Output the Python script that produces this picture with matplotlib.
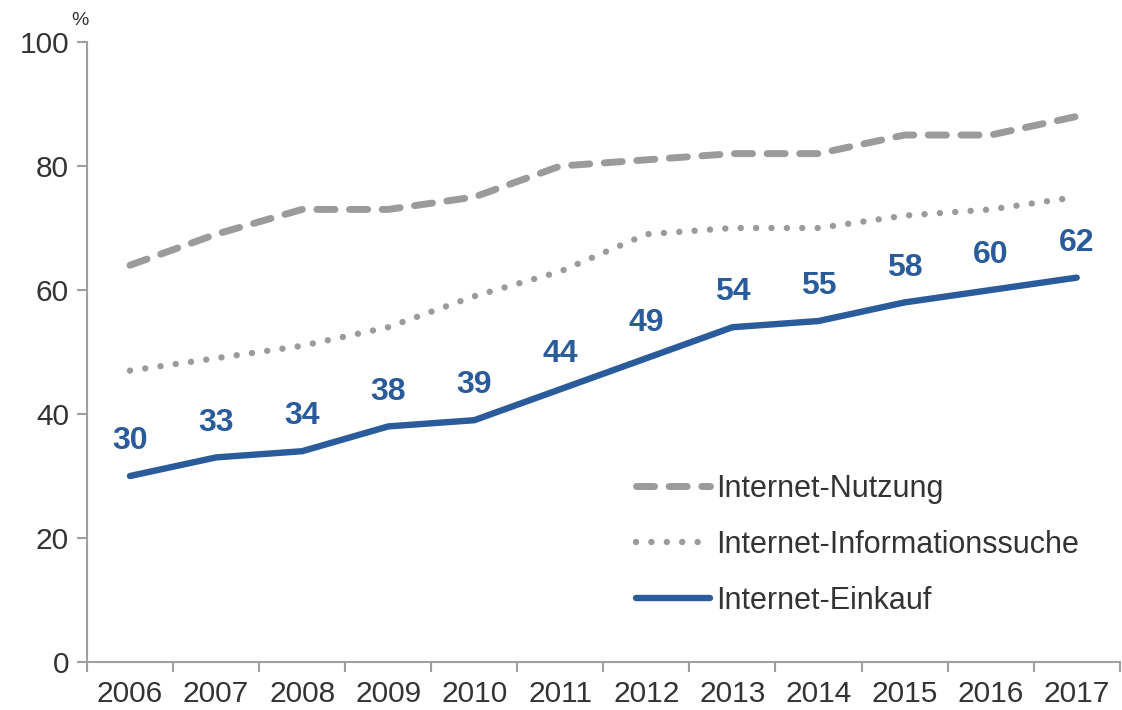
import matplotlib.pyplot as plt

years = ['2006', '2007', '2008', '2009', '2010', '2011',
         '2012', '2013', '2014', '2015', '2016', '2017']
nutzung = [64, 69, 73, 73, 75, 80, 81, 82, 82, 85, 85, 88]
info = [47, 49, 51, 54, 59, 63, 69, 70, 70, 72, 73, 75]
einkauf = [30, 33, 34, 38, 39, 44, 49, 54, 55, 58, 60, 62]

gray = '#9b9b9b'
blue = '#2a5b9b'
axis_col = '#a0a0a0'
text_col = '#333333'

plt.rcParams['font.family'] = ['Liberation Sans', 'DejaVu Sans']

fig = plt.figure(figsize=(11.22, 7.1), dpi=100)
ax = fig.add_axes([0.0775, 0.0676, 0.9205, 0.8732])

x = list(range(len(years)))
ax.plot(x, nutzung, color=gray, lw=5, dashes=(2.6, 2.1),
        dash_capstyle='round', solid_joinstyle='round', label='Internet-Nutzung')
ax.plot(x, info, color=gray, lw=4.6, dashes=(0.01, 2.4),
        dash_capstyle='round', label='Internet-Informationssuche')
ax.plot(x, einkauf, color=blue, lw=4.6, solid_capstyle='round',
        solid_joinstyle='round', label='Internet-Einkauf')

for xi, v in zip(x, einkauf):
    ax.annotate(str(v), (xi, v), xytext=(0, 25), textcoords='offset points',
                ha='center', va='center', fontsize=23, fontweight='bold', color=blue)

ax.set_xlim(-0.5, len(years) - 0.5)
ax.set_ylim(0, 100)
ax.set_yticks([0, 20, 40, 60, 80, 100])
ax.set_xticks(x)
ax.set_xticklabels(years)
ax.set_xticks([i - 0.5 for i in range(len(years) + 1)], minor=True)
ax.tick_params(axis='x', which='major', length=0, pad=13, labelsize=21.5, labelcolor=text_col)
ax.tick_params(axis='x', which='minor', length=7, width=1.5, color=axis_col)
ax.tick_params(axis='y', length=7, width=1.5, color=axis_col, pad=6,
               labelsize=21.5, labelcolor=text_col)

for s in ['top', 'right']:
    ax.spines[s].set_visible(False)
for s in ['left', 'bottom']:
    ax.spines[s].set_color(axis_col)
    ax.spines[s].set_linewidth(1.5)

ax.text(-0.58, 103.5, '%', fontsize=14, color=text_col, ha='center', va='center')

leg = ax.legend(loc='upper left', bbox_to_anchor=(0.532, 0.303), frameon=False,
                fontsize=22, handlelength=2.4, handletextpad=0.2,
                labelspacing=0.85, borderaxespad=0, borderpad=0)
for t in leg.get_texts():
    t.set_color(text_col)

fig.savefig('out.png', dpi=100)
